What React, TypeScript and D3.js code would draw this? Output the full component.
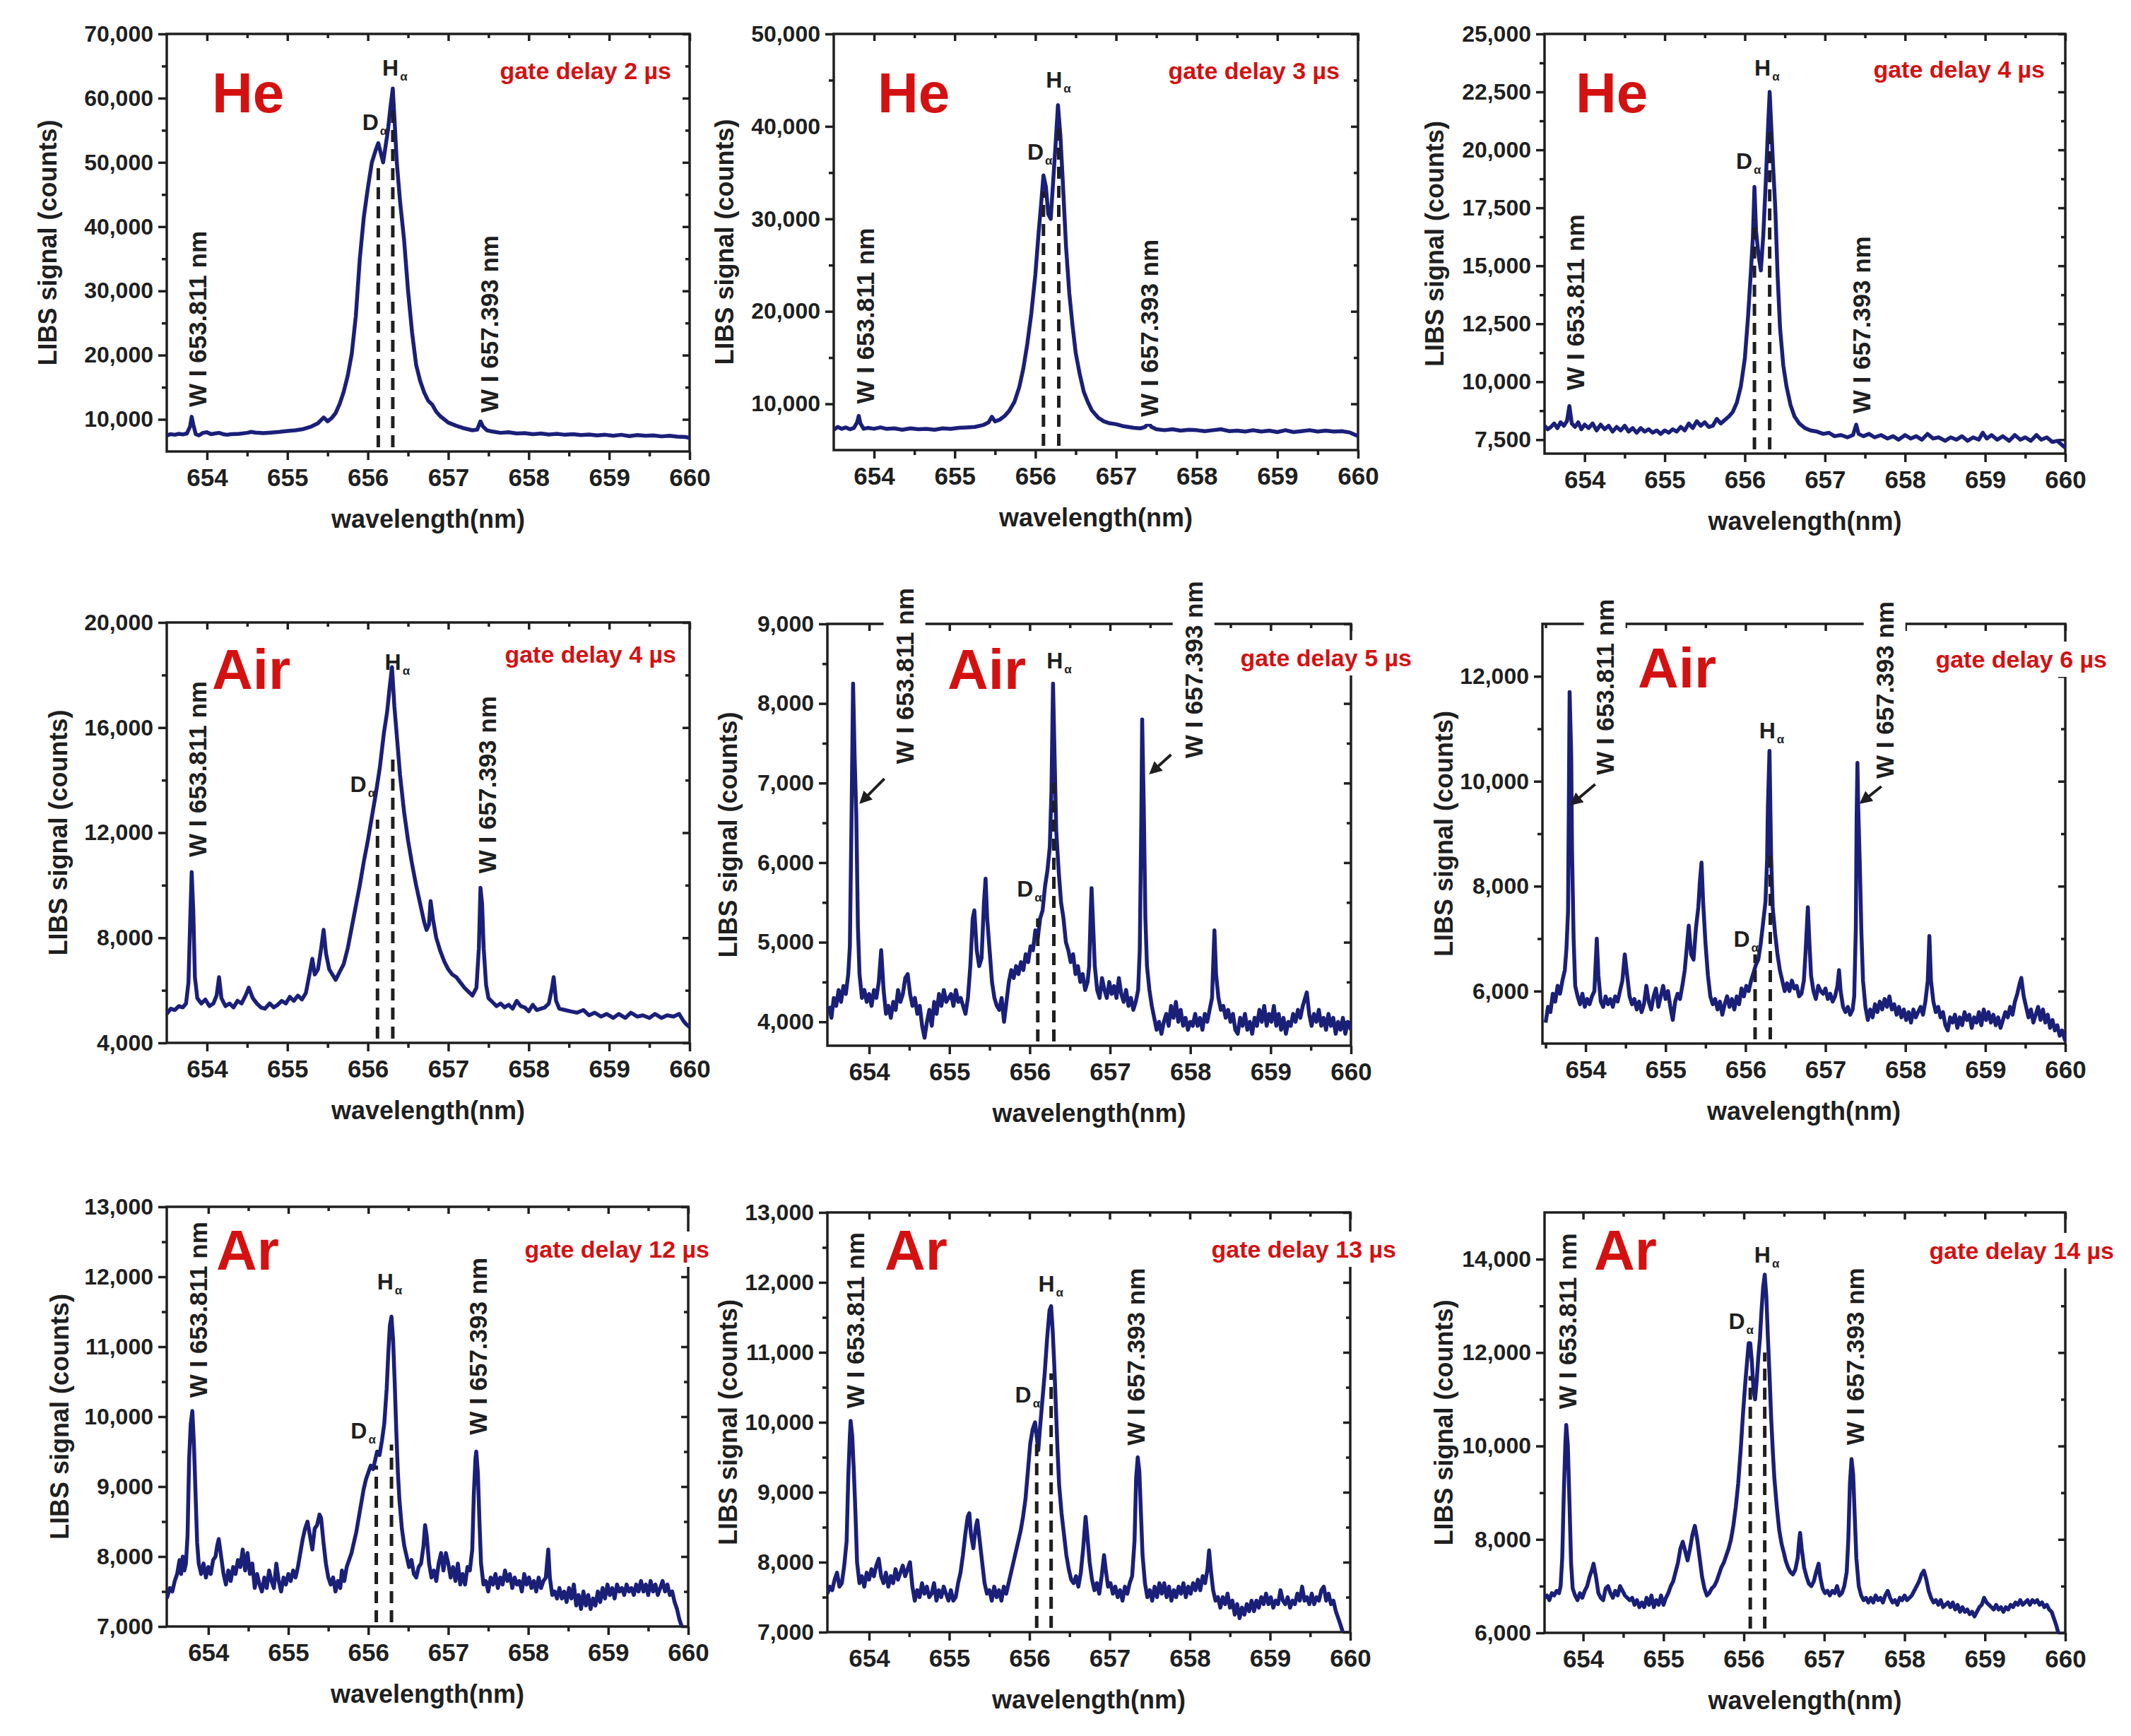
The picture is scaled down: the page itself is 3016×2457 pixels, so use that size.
import React, { useRef, useEffect } from 'react';
import * as d3 from 'd3';

type Pt = [number, number];

// spectra: [wavelength nm, LIBS counts]
const heGate2: Pt[] = [
  [653.50, 7500], [653.55, 7700], [653.60, 7600], [653.65, 7750], [653.70, 7650], [653.75, 7800], [653.79, 8900], [653.81, 10400],
  [653.83, 9200], [653.86, 7700], [653.90, 7500], [653.95, 7900], [654.00, 8000], [654.05, 7700], [654.10, 7800], [654.15, 7900],
  [654.20, 7700], [654.25, 7600], [654.30, 7700], [654.40, 7750], [654.50, 7900], [654.55, 8050], [654.60, 7950], [654.70, 7850],
  [654.80, 7950], [654.90, 8050], [655.00, 8200], [655.10, 8300], [655.20, 8500], [655.30, 8900], [655.38, 9400], [655.45, 10300],
  [655.50, 9700], [655.55, 10200], [655.60, 11000], [655.65, 12400], [655.70, 14300], [655.75, 16800], [655.80, 20200], [655.85, 26000],
  [655.90, 35000], [655.95, 41500], [656.00, 46000], [656.05, 50000], [656.10, 52000], [656.13, 53000], [656.16, 51500], [656.19, 50000],
  [656.22, 52500], [656.25, 55000], [656.28, 58500], [656.31, 61500], [656.33, 57000], [656.36, 50000], [656.40, 44000], [656.45, 38000],
  [656.50, 30000], [656.55, 23500], [656.60, 18500], [656.65, 16000], [656.70, 14200], [656.75, 12900], [656.80, 12300], [656.85, 11200],
  [656.90, 10500], [657.00, 9500], [657.10, 9000], [657.20, 8600], [657.30, 8300], [657.36, 8400], [657.40, 9700], [657.43, 8900],
  [657.48, 8300], [657.55, 8100], [657.65, 7900], [657.75, 8000], [657.85, 7800], [657.95, 7850], [658.05, 7700], [658.15, 7800],
  [658.25, 7650], [658.35, 7750], [658.45, 7600], [658.55, 7700], [658.65, 7550], [658.75, 7650], [658.85, 7500], [658.95, 7600],
  [659.05, 7450], [659.15, 7600], [659.25, 7400], [659.35, 7550], [659.45, 7450], [659.55, 7500], [659.65, 7350], [659.75, 7450],
  [659.85, 7300], [659.95, 7250], [660.00, 7100],
];

const heGate3: Pt[] = [
  [653.50, 7200], [653.55, 7500], [653.60, 7300], [653.65, 7450], [653.70, 7250], [653.75, 7400], [653.79, 8000], [653.81, 8700],
  [653.83, 7900], [653.87, 7300], [653.92, 7400], [654.00, 7300], [654.08, 7450], [654.15, 7300], [654.25, 7350], [654.35, 7200],
  [654.45, 7350], [654.55, 7250], [654.65, 7300], [654.75, 7200], [654.85, 7350], [654.95, 7300], [655.05, 7400], [655.15, 7450],
  [655.25, 7500], [655.35, 7700], [655.42, 8000], [655.46, 8600], [655.50, 8100], [655.56, 8300], [655.62, 8700], [655.68, 9300],
  [655.74, 10200], [655.80, 11800], [655.85, 13800], [655.90, 16500], [655.95, 19800], [656.00, 24000], [656.04, 28500], [656.07, 31500],
  [656.10, 34700], [656.13, 33500], [656.16, 30500], [656.19, 30000], [656.22, 34000], [656.25, 38000], [656.28, 42300], [656.31, 39000],
  [656.34, 34000], [656.38, 27000], [656.42, 22000], [656.46, 18500], [656.50, 15500], [656.55, 13200], [656.60, 11300], [656.65, 10200],
  [656.70, 9300], [656.78, 8500], [656.85, 8100], [656.92, 7900], [657.00, 7800], [657.08, 7600], [657.15, 7500], [657.22, 7400],
  [657.30, 7350], [657.36, 7500], [657.40, 7900], [657.44, 7500], [657.50, 7250], [657.60, 7150], [657.70, 7250], [657.80, 7100],
  [657.90, 7200], [658.00, 7150], [658.10, 7050], [658.20, 7150], [658.30, 7250], [658.40, 7050], [658.50, 7100], [658.60, 7000],
  [658.70, 7150], [658.80, 7000], [658.90, 7100], [659.00, 6950], [659.10, 7150], [659.20, 6950], [659.30, 7050], [659.40, 7150],
  [659.50, 7000], [659.60, 7100], [659.70, 7000], [659.80, 7050], [659.90, 6900], [659.95, 6700], [660.00, 6500],
];

const heGate4: Pt[] = [
  [653.50, 8100], [653.54, 7950], [653.58, 8050], [653.62, 8200], [653.66, 8000], [653.70, 8250], [653.74, 8100], [653.78, 8300],
  [653.81, 8950], [653.84, 8200], [653.88, 8050], [653.92, 8250], [653.96, 7950], [654.00, 8150], [654.05, 8000], [654.10, 8200],
  [654.15, 7900], [654.20, 8150], [654.25, 7950], [654.30, 8100], [654.35, 7850], [654.40, 8050], [654.45, 7900], [654.50, 8100],
  [654.55, 7850], [654.60, 8000], [654.65, 7800], [654.70, 8000], [654.75, 7850], [654.80, 7950], [654.85, 7800], [654.90, 7900],
  [654.95, 7750], [655.00, 7900], [655.05, 7800], [655.10, 7950], [655.15, 7850], [655.20, 8050], [655.25, 7900], [655.30, 8200],
  [655.35, 8000], [655.40, 8300], [655.45, 8100], [655.50, 8250], [655.55, 8050], [655.60, 8100], [655.65, 8400], [655.70, 8200],
  [655.75, 8350], [655.80, 8500], [655.85, 8700], [655.90, 9100], [655.95, 9800], [656.00, 11000], [656.04, 12800], [656.08, 15000],
  [656.10, 16200], [656.12, 18400], [656.14, 16500], [656.17, 15500], [656.20, 14800], [656.23, 16300], [656.26, 18500], [656.29, 21000],
  [656.31, 22500], [656.33, 21000], [656.35, 19500], [656.38, 17500], [656.41, 14500], [656.44, 12300], [656.48, 10700], [656.52, 9800],
  [656.57, 9000], [656.62, 8500], [656.68, 8200], [656.75, 8000], [656.82, 7900], [656.90, 7850], [656.98, 7750], [657.05, 7800],
  [657.12, 7650], [657.20, 7700], [657.28, 7600], [657.35, 7700], [657.39, 8150], [657.42, 7750], [657.48, 7650], [657.55, 7750],
  [657.62, 7600], [657.70, 7700], [657.78, 7550], [657.85, 7650], [657.92, 7500], [658.00, 7700], [658.07, 7550], [658.14, 7650],
  [658.21, 7500], [658.28, 7750], [658.35, 7550], [658.42, 7600], [658.50, 7450], [658.57, 7600], [658.64, 7500], [658.71, 7650],
  [658.78, 7450], [658.85, 7600], [658.92, 7500], [658.97, 7800], [659.02, 7550], [659.08, 7700], [659.15, 7500], [659.22, 7650],
  [659.30, 7450], [659.37, 7700], [659.44, 7500], [659.50, 7600], [659.57, 7450], [659.64, 7700], [659.70, 7500], [659.77, 7600],
  [659.84, 7400], [659.90, 7450], [659.95, 7300], [660.00, 7150],
];

const airGate4: Pt[] = [
  [653.50, 5100], [653.55, 5300], [653.60, 5250], [653.65, 5400], [653.70, 5350], [653.74, 5500], [653.77, 6300], [653.79, 8500],
  [653.81, 10500], [653.83, 9000], [653.85, 6500], [653.88, 5700], [653.93, 5500], [653.98, 5650], [654.03, 5400], [654.08, 5500],
  [654.12, 5800], [654.15, 6500], [654.18, 5700], [654.23, 5400], [654.28, 5500], [654.33, 5350], [654.38, 5600], [654.43, 5500],
  [654.48, 5800], [654.52, 6100], [654.57, 5700], [654.62, 5500], [654.67, 5350], [654.72, 5300], [654.78, 5500], [654.83, 5350],
  [654.88, 5450], [654.93, 5600], [654.98, 5500], [655.03, 5750], [655.08, 5600], [655.13, 5800], [655.18, 5650], [655.23, 5900],
  [655.28, 6700], [655.31, 7200], [655.34, 6600], [655.38, 6800], [655.42, 7600], [655.45, 8300], [655.48, 7400], [655.52, 6800],
  [655.56, 6600], [655.60, 6400], [655.65, 6700], [655.70, 7000], [655.75, 7600], [655.80, 8400], [655.85, 9200], [655.90, 10000],
  [655.95, 10900], [656.00, 11700], [656.05, 12600], [656.10, 13500], [656.15, 14500], [656.20, 15800], [656.24, 16600], [656.27, 17500],
  [656.30, 18300], [656.33, 16800], [656.36, 15700], [656.40, 14200], [656.45, 12800], [656.50, 11700], [656.55, 10800], [656.60, 10000],
  [656.65, 9300], [656.70, 8600], [656.73, 8300], [656.76, 8500], [656.78, 9400], [656.81, 8700], [656.85, 8000], [656.90, 7500],
  [656.95, 7100], [657.00, 6800], [657.05, 6600], [657.10, 6500], [657.15, 6300], [657.20, 6100], [657.25, 5950], [657.30, 5800],
  [657.35, 6100], [657.38, 7600], [657.40, 9900], [657.42, 9300], [657.44, 7600], [657.47, 6200], [657.50, 5700], [657.55, 5550],
  [657.60, 5400], [657.65, 5500], [657.70, 5350], [657.75, 5450], [657.80, 5300], [657.85, 5600], [657.90, 5400], [657.95, 5350],
  [658.00, 5200], [658.05, 5450], [658.10, 5250], [658.15, 5300], [658.20, 5350], [658.25, 5500], [658.29, 6100], [658.31, 6500],
  [658.34, 5600], [658.38, 5300], [658.45, 5250], [658.52, 5200], [658.60, 5150], [658.68, 5250], [658.75, 5050], [658.82, 5150],
  [658.90, 5000], [658.97, 5100], [659.05, 4950], [659.12, 5100], [659.20, 4950], [659.27, 5150], [659.35, 5000], [659.42, 5050],
  [659.50, 4950], [659.57, 5100], [659.65, 4950], [659.72, 5050], [659.80, 5000], [659.87, 5100], [659.92, 4850], [659.96, 4700],
  [660.00, 4600],
];

const airGate5: Pt[] = [
  [653.50, 4200], [653.53, 4050], [653.56, 4300], [653.59, 4200], [653.62, 4400], [653.65, 4250], [653.68, 4450], [653.71, 4350],
  [653.74, 4600], [653.76, 4950], [653.78, 6500], [653.80, 8250], [653.82, 7300], [653.84, 6600], [653.86, 5200], [653.88, 4600],
  [653.91, 4300], [653.94, 4400], [653.97, 4250], [654.00, 4350], [654.03, 4200], [654.06, 4400], [654.09, 4300], [654.12, 4500],
  [654.15, 4900], [654.18, 4400], [654.21, 4100], [654.24, 4200], [654.27, 4050], [654.30, 4250], [654.33, 4150], [654.36, 4400],
  [654.39, 4250], [654.42, 4350], [654.45, 4550], [654.48, 4600], [654.51, 4350], [654.54, 4200], [654.57, 4300], [654.60, 4100],
  [654.63, 4200], [654.66, 3950], [654.69, 3800], [654.72, 4000], [654.75, 4150], [654.78, 3950], [654.81, 4250], [654.84, 4100],
  [654.87, 4350], [654.90, 4200], [654.93, 4400], [654.96, 4250], [654.99, 4300], [655.02, 4350], [655.05, 4200], [655.08, 4400],
  [655.11, 4250], [655.14, 4300], [655.17, 4200], [655.20, 4100], [655.23, 4300], [655.26, 4700], [655.29, 5300], [655.31, 5400],
  [655.34, 4900], [655.37, 4700], [655.40, 4800], [655.43, 5500], [655.45, 5800], [655.47, 5300], [655.50, 4900], [655.53, 4500],
  [655.56, 4300], [655.59, 4200], [655.62, 4150], [655.65, 4300], [655.68, 4000], [655.71, 4250], [655.74, 4500], [655.77, 4650],
  [655.80, 4550], [655.83, 4700], [655.86, 4600], [655.89, 4750], [655.92, 4650], [655.95, 4850], [655.98, 4750], [656.01, 4950],
  [656.04, 4900], [656.07, 5150], [656.10, 5050], [656.13, 5300], [656.16, 5400], [656.19, 5700], [656.22, 5900], [656.25, 6200],
  [656.27, 6900], [656.29, 8250], [656.31, 7300], [656.33, 6400], [656.36, 5900], [656.39, 5500], [656.42, 5300], [656.45, 5000],
  [656.48, 4900], [656.51, 4750], [656.54, 4850], [656.57, 4600], [656.60, 4700], [656.63, 4500], [656.66, 4600], [656.69, 4400],
  [656.72, 4500], [656.74, 4700], [656.76, 5400], [656.77, 5680], [656.79, 5200], [656.81, 4700], [656.84, 4400], [656.87, 4300],
  [656.90, 4550], [656.93, 4400], [656.96, 4300], [656.99, 4500], [657.02, 4350], [657.05, 4450], [657.08, 4300], [657.11, 4550],
  [657.14, 4350], [657.17, 4250], [657.20, 4400], [657.23, 4200], [657.26, 4300], [657.29, 4150], [657.32, 4250], [657.35, 4400],
  [657.37, 4900], [657.39, 6600], [657.40, 7800], [657.42, 6700], [657.44, 5300], [657.46, 4700], [657.49, 4400], [657.52, 4200],
  [657.55, 4050], [657.58, 3900], [657.61, 4000], [657.64, 3850], [657.67, 4000], [657.70, 4100], [657.73, 3950], [657.76, 4200],
  [657.79, 4050], [657.82, 4250], [657.85, 4000], [657.88, 4150], [657.91, 3950], [657.94, 4050], [657.97, 3900], [658.00, 4000],
  [658.03, 3950], [658.06, 4100], [658.09, 3950], [658.12, 4050], [658.15, 3900], [658.18, 4100], [658.21, 4000], [658.24, 4150],
  [658.27, 4300], [658.30, 5150], [658.32, 4600], [658.35, 4300], [658.38, 4150], [658.41, 4200], [658.44, 4050], [658.47, 4150],
  [658.50, 4000], [658.53, 4100], [658.56, 3900], [658.59, 3850], [658.62, 4050], [658.65, 3950], [658.68, 4100], [658.71, 3900],
  [658.74, 4000], [658.77, 3850], [658.80, 4050], [658.83, 3950], [658.86, 4150], [658.89, 4000], [658.92, 4200], [658.95, 3950],
  [658.98, 4100], [659.01, 4000], [659.04, 4200], [659.07, 3950], [659.10, 4100], [659.13, 3900], [659.16, 4050], [659.19, 3850],
  [659.22, 4000], [659.25, 3950], [659.28, 4100], [659.31, 4000], [659.34, 4150], [659.37, 4050], [659.40, 4200], [659.43, 4300],
  [659.45, 4370], [659.48, 4100], [659.51, 3950], [659.54, 4100], [659.57, 4000], [659.60, 4150], [659.63, 3950], [659.66, 4050],
  [659.69, 3900], [659.72, 4100], [659.75, 3950], [659.78, 4050], [659.81, 3850], [659.84, 4000], [659.87, 3900], [659.90, 4050],
  [659.93, 3850], [659.96, 4000], [660.00, 3900],
];

const airGate6: Pt[] = [
  [653.50, 5400], [653.53, 5700], [653.56, 5600], [653.59, 5950], [653.62, 5800], [653.65, 6100], [653.68, 5950], [653.71, 6200],
  [653.74, 6400], [653.76, 6800], [653.78, 7500], [653.79, 9500], [653.80, 11700], [653.82, 10500], [653.83, 8700], [653.85, 7000],
  [653.87, 6100], [653.90, 5900], [653.93, 5750], [653.96, 5950], [653.99, 5700], [654.02, 5850], [654.05, 5750], [654.08, 5900],
  [654.11, 6000], [654.14, 7000], [654.16, 6300], [654.19, 5800], [654.22, 5700], [654.25, 5900], [654.28, 5750], [654.31, 5850],
  [654.34, 5700], [654.37, 5900], [654.40, 5800], [654.43, 6000], [654.46, 6200], [654.49, 6700], [654.52, 6300], [654.55, 5900],
  [654.58, 5750], [654.61, 5850], [654.64, 5650], [654.67, 5800], [654.70, 5600], [654.73, 5750], [654.76, 6100], [654.79, 5800],
  [654.82, 5650], [654.85, 5900], [654.88, 6050], [654.91, 5700], [654.94, 5900], [654.97, 6100], [655.00, 5850], [655.03, 6000],
  [655.06, 5700], [655.09, 5450], [655.12, 5800], [655.15, 5950], [655.18, 5850], [655.21, 6100], [655.24, 6400], [655.27, 6900],
  [655.29, 7250], [655.32, 6700], [655.35, 6600], [655.38, 7200], [655.41, 7600], [655.43, 8100], [655.45, 8450], [655.47, 7700],
  [655.50, 6900], [655.53, 6300], [655.56, 5900], [655.59, 5750], [655.62, 5850], [655.65, 5650], [655.68, 5800], [655.71, 5550],
  [655.74, 5750], [655.77, 5900], [655.80, 5700], [655.83, 5850], [655.86, 5650], [655.89, 5900], [655.92, 5750], [655.95, 6050],
  [655.98, 5900], [656.01, 6100], [656.04, 6000], [656.07, 6200], [656.10, 6350], [656.13, 6500], [656.16, 6600], [656.19, 6900],
  [656.22, 7300], [656.25, 7700], [656.27, 8500], [656.28, 9500], [656.30, 10580], [656.31, 9600], [656.32, 8600], [656.34, 7600],
  [656.37, 7100], [656.40, 6700], [656.43, 6400], [656.46, 6200], [656.49, 6000], [656.52, 6150], [656.55, 6000], [656.58, 6200],
  [656.61, 6050], [656.64, 6100], [656.67, 5900], [656.70, 5950], [656.73, 6200], [656.75, 6700], [656.77, 7300], [656.78, 7600],
  [656.80, 6900], [656.82, 6300], [656.85, 6000], [656.88, 5850], [656.91, 6100], [656.94, 6000], [656.97, 5950], [657.00, 6050],
  [657.03, 5850], [657.06, 5950], [657.09, 5800], [657.12, 5900], [657.15, 6100], [657.17, 6400], [657.19, 6000], [657.22, 5700],
  [657.25, 5600], [657.28, 5700], [657.31, 5550], [657.34, 5650], [657.36, 5900], [657.38, 7200], [657.39, 9300], [657.40, 10350],
  [657.41, 9500], [657.43, 8400], [657.45, 7100], [657.47, 6200], [657.50, 5700], [657.53, 5450], [657.56, 5650], [657.59, 5500],
  [657.62, 5750], [657.65, 5600], [657.68, 5800], [657.71, 5650], [657.74, 5850], [657.77, 5700], [657.80, 5900], [657.83, 5650],
  [657.86, 5750], [657.89, 5550], [657.92, 5700], [657.95, 5500], [657.98, 5650], [658.01, 5450], [658.04, 5600], [658.07, 5400],
  [658.10, 5650], [658.13, 5500], [658.16, 5600], [658.19, 5700], [658.22, 5550], [658.25, 5800], [658.28, 6200], [658.30, 7050],
  [658.32, 6200], [658.35, 5800], [658.38, 5600], [658.41, 5700], [658.44, 5500], [658.47, 5600], [658.50, 5350], [658.53, 5250],
  [658.56, 5500], [658.59, 5400], [658.62, 5550], [658.65, 5300], [658.68, 5500], [658.71, 5350], [658.74, 5600], [658.77, 5450],
  [658.80, 5550], [658.83, 5300], [658.86, 5500], [658.89, 5400], [658.92, 5600], [658.95, 5350], [658.98, 5650], [659.01, 5450],
  [659.04, 5600], [659.07, 5400], [659.10, 5550], [659.13, 5350], [659.16, 5500], [659.19, 5300], [659.22, 5450], [659.25, 5600],
  [659.28, 5500], [659.31, 5700], [659.34, 5550], [659.37, 5800], [659.40, 5950], [659.43, 6150], [659.45, 6250], [659.48, 5900],
  [659.51, 5700], [659.54, 5500], [659.57, 5650], [659.60, 5400], [659.63, 5550], [659.66, 5700], [659.69, 5450], [659.72, 5650],
  [659.75, 5400], [659.78, 5550], [659.81, 5300], [659.84, 5450], [659.87, 5250], [659.90, 5350], [659.93, 5150], [659.96, 5250],
  [660.00, 5050],
];

const arGate12: Pt[] = [
  [653.48, 7400], [653.52, 7550], [653.55, 7500], [653.58, 7650], [653.61, 7750], [653.64, 7950], [653.66, 7750], [653.68, 8000],
  [653.70, 7800], [653.72, 7900], [653.74, 8300], [653.76, 9400], [653.78, 9900], [653.80, 10080], [653.82, 9600], [653.84, 8900],
  [653.86, 8200], [653.88, 7900], [653.91, 7750], [653.94, 7900], [653.97, 7700], [654.00, 7850], [654.03, 7750], [654.06, 7950],
  [654.09, 8000], [654.11, 8150], [654.13, 8250], [654.16, 8000], [654.19, 7750], [654.22, 7600], [654.25, 7800], [654.28, 7650],
  [654.31, 7850], [654.34, 7750], [654.37, 7950], [654.40, 7850], [654.43, 8100], [654.46, 7800], [654.49, 8050], [654.52, 7750],
  [654.55, 7900], [654.58, 7550], [654.61, 7750], [654.64, 7600], [654.67, 7500], [654.70, 7700], [654.73, 7550], [654.76, 7800],
  [654.79, 7650], [654.82, 7550], [654.85, 7900], [654.88, 7650], [654.91, 7500], [654.94, 7700], [654.97, 7600], [655.00, 7750],
  [655.03, 7650], [655.06, 7800], [655.09, 7700], [655.12, 7850], [655.15, 8050], [655.18, 8250], [655.21, 8400], [655.24, 8500],
  [655.27, 8300], [655.30, 8100], [655.33, 8400], [655.36, 8450], [655.39, 8600], [655.41, 8550], [655.44, 8200], [655.47, 7900],
  [655.50, 7700], [655.53, 7600], [655.56, 7700], [655.59, 7500], [655.62, 7650], [655.65, 7550], [655.67, 7800], [655.70, 7650],
  [655.73, 7850], [655.76, 7950], [655.79, 8050], [655.82, 8200], [655.85, 8350], [655.88, 8550], [655.91, 8750], [655.94, 8950],
  [655.97, 9100], [656.00, 9200], [656.03, 9300], [656.06, 9250], [656.09, 9400], [656.11, 9500], [656.14, 9450], [656.17, 9650],
  [656.20, 9900], [656.23, 10400], [656.25, 10900], [656.27, 11300], [656.29, 11430], [656.31, 11100], [656.33, 10500], [656.35, 9800],
  [656.37, 9200], [656.39, 8800], [656.42, 8400], [656.45, 8150], [656.48, 8000], [656.51, 7850], [656.54, 7950], [656.57, 7750],
  [656.60, 7700], [656.63, 7850], [656.66, 7900], [656.69, 8150], [656.71, 8450], [656.73, 8300], [656.76, 7900], [656.79, 7700],
  [656.82, 7800], [656.85, 7650], [656.88, 7900], [656.91, 8050], [656.94, 7800], [656.97, 8050], [657.00, 7900], [657.03, 7700],
  [657.06, 7850], [657.09, 7650], [657.12, 7900], [657.15, 7600], [657.18, 7750], [657.21, 7600], [657.24, 7850], [657.27, 7800],
  [657.30, 8100], [657.32, 8900], [657.34, 9400], [657.35, 9500], [657.37, 9200], [657.39, 8500], [657.41, 7900], [657.44, 7600],
  [657.47, 7650], [657.50, 7500], [657.53, 7700], [657.56, 7600], [657.59, 7750], [657.62, 7550], [657.65, 7700], [657.68, 7600],
  [657.71, 7800], [657.74, 7650], [657.77, 7750], [657.80, 7550], [657.83, 7700], [657.86, 7600], [657.89, 7650], [657.92, 7500],
  [657.95, 7750], [657.98, 7600], [658.01, 7700], [658.04, 7550], [658.07, 7650], [658.10, 7500], [658.13, 7700], [658.16, 7550],
  [658.19, 7650], [658.22, 7700], [658.25, 8100], [658.27, 7700], [658.30, 7450], [658.33, 7500], [658.36, 7400], [658.39, 7550],
  [658.42, 7400], [658.45, 7500], [658.48, 7350], [658.51, 7550], [658.54, 7400], [658.57, 7600], [658.60, 7300], [658.63, 7450],
  [658.66, 7250], [658.69, 7500], [658.72, 7300], [658.75, 7450], [658.78, 7250], [658.81, 7400], [658.84, 7300], [658.87, 7500],
  [658.90, 7350], [658.93, 7550], [658.96, 7400], [658.99, 7600], [659.02, 7450], [659.05, 7550], [659.08, 7400], [659.11, 7600],
  [659.14, 7500], [659.17, 7550], [659.20, 7450], [659.23, 7600], [659.26, 7500], [659.29, 7550], [659.32, 7450], [659.35, 7600],
  [659.38, 7500], [659.41, 7650], [659.44, 7500], [659.47, 7600], [659.50, 7450], [659.53, 7650], [659.56, 7500], [659.59, 7600],
  [659.62, 7450], [659.65, 7550], [659.68, 7650], [659.71, 7500], [659.74, 7600], [659.77, 7450], [659.80, 7500], [659.83, 7350],
  [659.86, 7250], [659.89, 7100], [659.92, 7000], [659.96, 6900],
];

const arGate13: Pt[] = [
  [653.48, 7550], [653.51, 7650], [653.54, 7600], [653.57, 7750], [653.60, 7850], [653.63, 7650], [653.66, 7700], [653.69, 7950],
  [653.72, 8300], [653.74, 9200], [653.76, 9800], [653.77, 10020], [653.79, 9800], [653.81, 9300], [653.83, 8700], [653.85, 8000],
  [653.88, 7700], [653.91, 7800], [653.94, 7650], [653.97, 7850], [654.00, 7750], [654.03, 7900], [654.06, 7800], [654.09, 7950],
  [654.12, 8050], [654.15, 7800], [654.18, 7700], [654.21, 7850], [654.24, 7650], [654.27, 7800], [654.30, 7700], [654.33, 7900],
  [654.36, 7750], [654.39, 7850], [654.42, 7950], [654.45, 7800], [654.48, 7900], [654.51, 8000], [654.54, 7650], [654.57, 7450],
  [654.60, 7600], [654.63, 7500], [654.66, 7700], [654.69, 7550], [654.72, 7650], [654.75, 7500], [654.78, 7550], [654.81, 7700],
  [654.84, 7450], [654.87, 7600], [654.90, 7500], [654.93, 7650], [654.96, 7550], [654.99, 7450], [655.02, 7600], [655.05, 7450],
  [655.08, 7500], [655.11, 7700], [655.14, 7850], [655.17, 8100], [655.20, 8400], [655.23, 8650], [655.25, 8700], [655.27, 8400],
  [655.30, 8200], [655.33, 8500], [655.35, 8600], [655.38, 8300], [655.41, 8000], [655.44, 7700], [655.47, 7550], [655.50, 7600],
  [655.53, 7450], [655.56, 7650], [655.59, 7500], [655.62, 7600], [655.65, 7450], [655.68, 7650], [655.71, 7550], [655.74, 7700],
  [655.77, 7850], [655.80, 8000], [655.83, 8150], [655.86, 8300], [655.89, 8450], [655.92, 8650], [655.95, 8900], [655.98, 9300],
  [656.01, 9700], [656.04, 9900], [656.07, 10000], [656.09, 9800], [656.11, 9600], [656.13, 9900], [656.16, 10300], [656.19, 10700],
  [656.22, 11200], [656.25, 11600], [656.27, 11660], [656.29, 11300], [656.31, 10800], [656.33, 10200], [656.35, 9600], [656.37, 9100],
  [656.40, 8700], [656.43, 8400], [656.46, 8100], [656.49, 7900], [656.52, 7750], [656.55, 7700], [656.58, 7800], [656.61, 7650],
  [656.64, 7850], [656.67, 8200], [656.70, 8650], [656.72, 8400], [656.75, 8000], [656.78, 7750], [656.81, 7600], [656.84, 7700],
  [656.87, 7550], [656.90, 7800], [656.93, 8100], [656.95, 7900], [656.98, 7650], [657.01, 7700], [657.04, 7550], [657.07, 7650],
  [657.10, 7500], [657.13, 7600], [657.16, 7450], [657.19, 7650], [657.22, 7550], [657.25, 7700], [657.28, 7800], [657.31, 8300],
  [657.33, 9200], [657.35, 9500], [657.37, 9300], [657.39, 8700], [657.41, 8100], [657.44, 7700], [657.47, 7500], [657.50, 7600],
  [657.53, 7450], [657.56, 7650], [657.59, 7500], [657.62, 7700], [657.65, 7550], [657.68, 7700], [657.71, 7500], [657.74, 7650],
  [657.77, 7450], [657.80, 7600], [657.83, 7500], [657.86, 7650], [657.89, 7550], [657.92, 7700], [657.95, 7500], [657.98, 7650],
  [658.01, 7550], [658.04, 7700], [658.07, 7600], [658.10, 7750], [658.13, 7600], [658.16, 7800], [658.19, 7700], [658.22, 7900],
  [658.24, 8170], [658.26, 7900], [658.29, 7600], [658.32, 7450], [658.35, 7500], [658.38, 7350], [658.41, 7500], [658.44, 7400],
  [658.47, 7550], [658.50, 7350], [658.53, 7450], [658.56, 7250], [658.59, 7400], [658.62, 7200], [658.65, 7350], [658.68, 7250],
  [658.71, 7400], [658.74, 7300], [658.77, 7450], [658.80, 7300], [658.83, 7450], [658.86, 7350], [658.89, 7500], [658.92, 7400],
  [658.95, 7550], [658.98, 7400], [659.01, 7500], [659.04, 7350], [659.07, 7450], [659.10, 7400], [659.13, 7600], [659.16, 7450],
  [659.19, 7400], [659.22, 7500], [659.25, 7350], [659.28, 7450], [659.31, 7400], [659.34, 7550], [659.37, 7450], [659.40, 7650],
  [659.43, 7450], [659.46, 7500], [659.49, 7400], [659.52, 7550], [659.55, 7400], [659.58, 7500], [659.61, 7450], [659.64, 7600],
  [659.67, 7650], [659.70, 7450], [659.73, 7550], [659.76, 7400], [659.79, 7450], [659.82, 7300], [659.85, 7200], [659.88, 7100],
  [659.92, 6950],
];

const arGate14: Pt[] = [
  [653.52, 6750], [653.55, 6800], [653.58, 6700], [653.61, 6850], [653.64, 6800], [653.67, 6900], [653.70, 6850], [653.72, 7000],
  [653.74, 7600], [653.76, 9000], [653.78, 10100], [653.79, 10450], [653.81, 10000], [653.83, 8800], [653.85, 7500], [653.87, 6950],
  [653.90, 6800], [653.93, 6700], [653.96, 6850], [653.99, 6750], [654.02, 6900], [654.05, 7000], [654.08, 7200], [654.11, 7350],
  [654.13, 7480], [654.16, 7200], [654.19, 6850], [654.22, 6750], [654.25, 6700], [654.28, 6950], [654.31, 7000], [654.34, 6850],
  [654.37, 6750], [654.40, 6900], [654.43, 6800], [654.46, 7000], [654.49, 6900], [654.52, 6800], [654.55, 6750], [654.58, 6700],
  [654.61, 6750], [654.64, 6600], [654.67, 6700], [654.70, 6550], [654.73, 6650], [654.76, 6550], [654.79, 6750], [654.82, 6600],
  [654.85, 6800], [654.88, 6550], [654.91, 6700], [654.94, 6600], [654.97, 6800], [655.00, 6600], [655.03, 6750], [655.06, 6850],
  [655.09, 7000], [655.12, 7100], [655.15, 7300], [655.18, 7500], [655.21, 7800], [655.24, 7950], [655.27, 7750], [655.30, 7550],
  [655.33, 7800], [655.36, 8100], [655.39, 8290], [655.42, 8000], [655.45, 7600], [655.48, 7200], [655.51, 6950], [655.54, 6800],
  [655.57, 6850], [655.60, 6950], [655.63, 7000], [655.66, 7100], [655.69, 7250], [655.72, 7400], [655.75, 7500], [655.78, 7650],
  [655.81, 7800], [655.84, 8000], [655.87, 8300], [655.90, 8700], [655.93, 9200], [655.96, 9900], [655.99, 10700], [656.02, 11400],
  [656.04, 11800], [656.06, 12200], [656.08, 12200], [656.10, 11800], [656.12, 11200], [656.14, 11000], [656.16, 11400], [656.18, 11900],
  [656.20, 12300], [656.22, 12900], [656.24, 13400], [656.26, 13670], [656.28, 13200], [656.30, 12300], [656.32, 11500], [656.34, 10600],
  [656.36, 9900], [656.38, 9300], [656.41, 8700], [656.44, 8200], [656.47, 7900], [656.50, 7700], [656.52, 7550], [656.55, 7400],
  [656.58, 7300], [656.61, 7250], [656.64, 7350], [656.67, 7600], [656.69, 8000], [656.70, 8140], [656.72, 7800], [656.75, 7400],
  [656.78, 7200], [656.81, 7050], [656.84, 7000], [656.87, 7100], [656.90, 7300], [656.93, 7480], [656.95, 7200], [656.98, 6950],
  [657.01, 6850], [657.04, 6900], [657.07, 6800], [657.10, 6900], [657.13, 6850], [657.16, 7000], [657.19, 6800], [657.22, 6850],
  [657.25, 7000], [657.28, 7300], [657.30, 8000], [657.32, 9200], [657.34, 9720], [657.36, 9400], [657.38, 8500], [657.40, 7600],
  [657.43, 7000], [657.46, 6800], [657.49, 6700], [657.52, 6750], [657.55, 6650], [657.58, 6750], [657.61, 6650], [657.64, 6800],
  [657.67, 6700], [657.70, 6750], [657.73, 6650], [657.76, 6800], [657.79, 6900], [657.82, 6750], [657.85, 6650], [657.88, 6700],
  [657.91, 6600], [657.94, 6750], [657.97, 6700], [658.00, 6800], [658.03, 6700], [658.06, 6750], [658.09, 6800], [658.12, 6900],
  [658.15, 7000], [658.18, 7100], [658.21, 7250], [658.24, 7330], [658.27, 7150], [658.30, 6900], [658.33, 6750], [658.36, 6650],
  [658.39, 6700], [658.42, 6600], [658.45, 6700], [658.48, 6550], [658.51, 6600], [658.54, 6650], [658.57, 6550], [658.60, 6650],
  [658.63, 6500], [658.66, 6600], [658.69, 6450], [658.72, 6550], [658.75, 6450], [658.78, 6500], [658.81, 6400], [658.84, 6450],
  [658.87, 6350], [658.90, 6450], [658.93, 6550], [658.96, 6600], [658.99, 6750], [659.02, 6650], [659.05, 6600], [659.08, 6550],
  [659.11, 6500], [659.14, 6600], [659.17, 6500], [659.20, 6550], [659.23, 6450], [659.26, 6550], [659.29, 6500], [659.32, 6600],
  [659.35, 6550], [659.38, 6650], [659.41, 6600], [659.44, 6700], [659.47, 6600], [659.50, 6650], [659.53, 6700], [659.56, 6600],
  [659.59, 6700], [659.62, 6650], [659.65, 6700], [659.68, 6600], [659.71, 6650], [659.74, 6550], [659.77, 6600], [659.80, 6500],
  [659.83, 6450], [659.86, 6300], [659.89, 6150], [659.92, 5950],
];

const xTicks = [654, 655, 656, 657, 658, 659, 660];
const yTicksHe2 = [10000, 20000, 30000, 40000, 50000, 60000, 70000];
const yTicksHe3 = [10000, 20000, 30000, 40000, 50000];
const yTicksHe4 = [7500, 10000, 12500, 15000, 17500, 20000, 22500, 25000];
const yTicksAir4 = [4000, 8000, 12000, 16000, 20000];
const yTicksAir5 = [4000, 5000, 6000, 7000, 8000, 9000];
const yTicksAir6 = [6000, 8000, 10000, 12000];
const yTicksAr12 = [7000, 8000, 9000, 10000, 11000, 12000, 13000];
const yTicksAr13 = [7000, 8000, 9000, 10000, 11000, 12000, 13000];
const yTicksAr14 = [6000, 8000, 10000, 12000, 14000];

const gases = ['He', 'He', 'He', 'Air', 'Air', 'Air', 'Ar', 'Ar', 'Ar'];
const gateDelays = [2, 3, 4, 4, 5, 6, 12, 13, 14];
const lineLeft = 'W I 653.811 nm';
const lineRight = 'W I 657.393 nm';

const W = 3016;
const H = 2457;
const FONT = "'Liberation Sans', Arial, Helvetica, sans-serif";
const NAVY = '#1a1f78';
const RED = '#d41111';
const INK = '#1f1f1f';

// layout of each panel (pixel box, domains, annotation anchors)
const panels = [
  { data: heGate2, ticks: yTicksHe2, box: [236, 48, 976, 639], xd: [653.5, 660], yd: [5000, 70000],
    gas: [64, 111], gate: [-26, 64], wl: [653.99, 11930], wr: [657.62, 11050], d: [655.93, 55070], h: [656.18, 63500],
    dash: [[656.13, 50000], [656.31, 58000]], arrows: [], title: 156 },
  { data: heGate3, ticks: yTicksHe3, box: [1180, 48, 1922, 637], xd: [653.5, 660], yd: [5000, 50000],
    gas: [62, 111], gate: [-26, 64], wl: [654.0, 10000], wr: [657.52, 8600], d: [655.9, 36400], h: [656.13, 44200],
    dash: [[656.1, 33000], [656.29, 40000]], arrows: [], title: 142 },
  { data: heGate4, ticks: yTicksHe4, box: [2186, 48, 2923, 642], xd: [653.5, 660], yd: [6900, 25000],
    gas: [44, 111], gate: [-29, 62], wl: [653.99, 9630], wr: [657.57, 8630], d: [655.89, 19180], h: [656.12, 23200],
    dash: [[656.12, 17000], [656.31, 21000]], arrows: [], title: 143 },
  { data: airGate4, ticks: yTicksAir4, box: [236, 881, 976, 1476], xd: [653.5, 660], yd: [4000, 20000],
    gas: [64, 94], gate: [-19, 57], wl: [653.99, 11070], wr: [657.59, 10450], d: [655.78, 13550], h: [656.21, 18200],
    dash: [[656.12, 12500], [656.31, 15000]], arrows: [], title: 141 },
  { data: airGate5, ticks: yTicksAir5, box: [1171, 883, 1912, 1480], xd: [653.48, 660], yd: [3700, 9000],
    gas: [170, 92], gate: [86, 60], wl: [654.55, 7240], wr: [658.15, 7310], d: [655.84, 5570], h: [656.21, 8440],
    dash: [[656.1, 5300], [656.3, 7000]],
    arrows: [[654.19, 7054, 653.9, 6760], [657.76, 7357, 657.51, 7130]], title: 128 },
  { data: airGate6, ticks: yTicksAir6, box: [2183, 883, 2923, 1477], xd: [653.46, 660], yd: [5000, 13000],
    gas: [135, 90], gate: [59, 62], wl: [654.35, 10120], wr: [657.85, 10050], d: [655.85, 6850], h: [656.17, 10820],
    dash: [[656.12, 6700], [656.31, 8600]],
    arrows: [[654.12, 9942, 653.83, 9570], [657.7, 9902, 657.45, 9600]], title: 127 },
  { data: arGate12, ticks: yTicksAr12, box: [236, 1708, 974, 2302], xd: [653.48, 660], yd: [7000, 13000],
    gas: [70, 89], gate: [30, 72], wl: [653.98, 10270], wr: [657.48, 9740], d: [655.78, 9690], h: [656.11, 11820],
    dash: [[656.1, 9300], [656.29, 9600]], arrows: [], title: 139 },
  { data: arGate13, ticks: yTicksAr13, box: [1171, 1716, 1911, 2310], xd: [653.48, 660], yd: [7000, 13000],
    gas: [81, 81], gate: [65, 64], wl: [653.94, 10200], wr: [657.44, 9670], d: [655.82, 10280], h: [656.11, 11870],
    dash: [[656.09, 9800], [656.27, 10700]], arrows: [], title: 128 },
  { data: arGate14, ticks: yTicksAr14, box: [2186, 1716, 2923, 2311], xd: [653.52, 660], yd: [6000, 15000],
    gas: [70, 81], gate: [69, 66], wl: [653.92, 10790], wr: [657.49, 10020], d: [655.81, 12510], h: [656.13, 13920],
    dash: [[656.08, 11500], [656.26, 12000]], arrows: [], title: 130 },
];

const App: React.FC = () => {
  const svgRef = useRef<SVGSVGElement | null>(null);

  useEffect(() => {
    const svg = d3.select(svgRef.current);
    svg.selectAll('*').remove();
    svg.append('rect').attr('width', W).attr('height', H).attr('fill', '#fff');

    const defs = svg.append('defs');
    defs.append('marker')
      .attr('id', 'arrowHead')
      .attr('viewBox', '0 0 10 10')
      .attr('refX', 8).attr('refY', 5)
      .attr('markerWidth', 18).attr('markerHeight', 18)
      .attr('markerUnits', 'userSpaceOnUse')
      .attr('orient', 'auto')
      .append('path').attr('d', 'M0,0 L10,5 L0,10 z').attr('fill', INK);

    // text with a white box behind it (the original labels cut through the frame)
    const boxedText = (parent, tx, ty, rotate, label, opts) => {
      const g = parent.append('g').attr('transform', `translate(${tx},${ty})${rotate ? ' rotate(-90)' : ''}`);
      const t = g.append('text')
        .attr('font-family', FONT).attr('font-weight', 'bold')
        .attr('font-size', opts.size).attr('fill', opts.color)
        .attr('text-anchor', opts.anchor || 'start')
        .text(label);
      const bb = (t.node() as SVGTextElement).getBBox();
      const pad = opts.pad ?? 6;
      g.insert('rect', 'text')
        .attr('x', bb.x - pad).attr('y', bb.y - pad)
        .attr('width', bb.width + pad * 2).attr('height', bb.height + pad * 2)
        .attr('fill', '#fff');
    };

    panels.forEach((p, i) => {
      const [l, t, r, b] = p.box;
      const x = d3.scaleLinear().domain(p.xd).range([l, r]);
      const y = d3.scaleLinear().domain(p.yd).range([b, t]);
      const g = svg.append('g');

      const clipId = `clip-${i}`;
      defs.append('clipPath').attr('id', clipId)
        .append('rect').attr('x', l).attr('y', t).attr('width', r - l).attr('height', b - t);

      const step = p.ticks[1] - p.ticks[0];
      const yMinor = [...p.ticks.map(v => v - step / 2), p.ticks[p.ticks.length - 1] + step / 2]
        .filter(v => v > p.yd[0] + 1 && v < p.yd[1] - 1);
      const xMinor = xTicks.map(v => v - 0.5).filter(v => v > p.xd[0] + 0.02 && v < p.xd[1] - 0.02);

      const styleAxis = (sel, size) => {
        sel.select('.domain').remove();
        sel.selectAll('line').attr('stroke', INK).attr('stroke-width', 3.5);
        sel.selectAll('text')
          .attr('font-family', FONT).attr('font-weight', 'bold')
          .attr('font-size', size).attr('fill', INK);
      };

      // left / bottom: outward ticks with labels
      g.append('g').attr('transform', `translate(${l},0)`)
        .call(d3.axisLeft(y).tickValues(p.ticks).tickFormat(d3.format(',')).tickSize(12).tickPadding(7))
        .call(s => styleAxis(s, 32));
      g.append('g').attr('transform', `translate(${l},0)`)
        .call(d3.axisLeft(y).tickValues(yMinor).tickFormat(() => '').tickSize(7))
        .call(s => styleAxis(s, 32));
      g.append('g').attr('transform', `translate(0,${b})`)
        .call(d3.axisBottom(x).tickValues(xTicks).tickFormat(d3.format('d')).tickSize(12).tickPadding(12))
        .call(s => styleAxis(s, 35));
      g.append('g').attr('transform', `translate(0,${b})`)
        .call(d3.axisBottom(x).tickValues(xMinor).tickFormat(() => '').tickSize(7))
        .call(s => styleAxis(s, 35));

      // top / right: inward ticks
      g.append('g').attr('transform', `translate(0,${t})`)
        .call(d3.axisTop(x).tickValues(xTicks).tickFormat(() => '').tickSize(-10))
        .call(s => styleAxis(s, 10));
      g.append('g').attr('transform', `translate(0,${t})`)
        .call(d3.axisTop(x).tickValues(xMinor).tickFormat(() => '').tickSize(-6))
        .call(s => styleAxis(s, 10));
      g.append('g').attr('transform', `translate(${r},0)`)
        .call(d3.axisRight(y).tickValues(p.ticks).tickFormat(() => '').tickSize(-10))
        .call(s => styleAxis(s, 10));
      g.append('g').attr('transform', `translate(${r},0)`)
        .call(d3.axisRight(y).tickValues(yMinor).tickFormat(() => '').tickSize(-6))
        .call(s => styleAxis(s, 10));

      g.append('rect')
        .attr('x', l).attr('y', t).attr('width', r - l).attr('height', b - t)
        .attr('fill', 'none').attr('stroke', INK).attr('stroke-width', 3.5);

      // axis titles
      g.append('text')
        .attr('x', (l + r) / 2).attr('y', b + 95)
        .attr('dominant-baseline', 'central').attr('text-anchor', 'middle')
        .attr('font-family', FONT).attr('font-weight', 'bold').attr('font-size', 36).attr('fill', INK)
        .text('wavelength(nm)');
      g.append('text')
        .attr('transform', `translate(${l - p.title},${(t + b) / 2}) rotate(-90)`)
        .attr('text-anchor', 'middle')
        .attr('font-family', FONT).attr('font-weight', 'bold').attr('font-size', 36).attr('fill', INK)
        .text('LIBS signal (counts)');

      // spectrum
      const line = d3.line<Pt>().x(d => x(d[0])).y(d => y(d[1]));
      g.append('path')
        .datum(p.data)
        .attr('clip-path', `url(#${clipId})`)
        .attr('d', line)
        .attr('fill', 'none')
        .attr('stroke', NAVY)
        .attr('stroke-width', 5.5)
        .attr('stroke-linejoin', 'round');

      // D-alpha / H-alpha markers
      p.dash.forEach(([wl, top]) => {
        g.append('line')
          .attr('x1', x(wl)).attr('x2', x(wl))
          .attr('y1', b - 6).attr('y2', y(top))
          .attr('stroke', INK).attr('stroke-width', 5).attr('stroke-dasharray', '17 10');
      });

      [['D', p.d], ['H', p.h]].forEach(([ch, pos]) => {
        const txt = g.append('text')
          .attr('x', x(pos[0])).attr('y', y(pos[1]))
          .attr('font-family', FONT).attr('font-weight', 'bold').attr('font-size', 32).attr('fill', INK)
          .text(ch);
        txt.append('tspan').attr('font-size', 17).attr('dx', 2).attr('dy', 7).text('α');
      });

      // arrows pointing at W I lines
      p.arrows.forEach(([x1, y1, x2, y2]) => {
        g.append('line')
          .attr('x1', x(x1)).attr('y1', y(y1)).attr('x2', x(x2)).attr('y2', y(y2))
          .attr('stroke', INK).attr('stroke-width', 4).attr('marker-end', 'url(#arrowHead)');
      });

      // W I line labels
      boxedText(g, x(p.wl[0]), y(p.wl[1]), true, lineLeft, { size: 35, color: INK, pad: 10 });
      boxedText(g, x(p.wr[0]), y(p.wr[1]), true, lineRight, { size: 35, color: INK, pad: 10 });

      // gas name and gate delay
      g.append('text')
        .attr('x', l + p.gas[0]).attr('y', t + p.gas[1])
        .attr('font-family', FONT).attr('font-weight', 'bold').attr('font-size', 80).attr('fill', RED)
        .text(gases[i]);
      boxedText(g, r + p.gate[0], t + p.gate[1], false, `gate delay ${gateDelays[i]} µs`,
        { size: 34, color: RED, anchor: 'end', pad: 6 });
    });
  }, []);

  return (
    <svg
      ref={svgRef}
      width={W}
      height={H}
      style={{ display: 'block', position: 'absolute', left: 0, top: 0, background: '#fff' }}
    />
  );
};

export default App;
